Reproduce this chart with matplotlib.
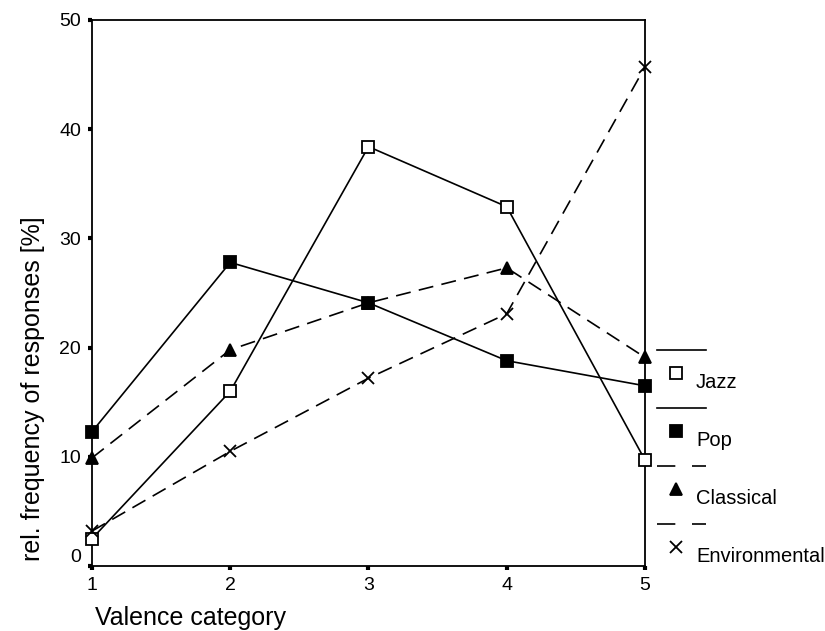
import matplotlib
matplotlib.use('Agg')
import matplotlib.pyplot as plt
from matplotlib.lines import Line2D
import matplotlib.transforms as mtransforms

matplotlib.rcParams['font.family'] = ['Liberation Sans', 'DejaVu Sans']

# values
valence = [1, 2, 3, 4, 5]
jazz = [2.5, 16.0, 38.4, 32.9, 9.7]
pop = [12.3, 27.8, 24.1, 18.8, 16.5]
classical = [9.9, 19.8, 24.1, 27.3, 19.1]
environmental = [3.2, 10.5, 17.2, 23.1, 45.7]

series = [
    ('Jazz', jazz, 's', 'white', '-'),
    ('Pop', pop, 's', 'black', '-'),
    ('Classical', classical, '^', 'black', '--'),
    ('Environmental', environmental, 'x', 'black', '--'),
]

W, H = 825, 631
fig = plt.figure(figsize=(W / 100, H / 100), dpi=100)
ax = fig.add_axes([92 / W, 1 - 566 / H, (645 - 92) / W, (566 - 20) / H])

for name, vals, mk, fc, ls in series:
    line, = ax.plot(valence, vals, color='black', linestyle=ls, linewidth=1.2,
                    marker=mk, markersize=8 if mk != 'x' else 9,
                    markerfacecolor=fc, markeredgecolor='black',
                    markeredgewidth=1.3, clip_on=False, zorder=3)
    if ls == '--':
        line.set_dashes((9, 5))

ax.set_xlim(1, 5)
ax.set_ylim(0, 50)
ax.set_xticks(valence)
ax.set_yticks(range(0, 51, 10))
ax.tick_params(direction='out', length=3, width=3, labelsize=14, pad=5)
for sp in ax.spines.values():
    sp.set_linewidth(1.3)

# the "0" label sits a bit higher in the original
lbl0 = ax.get_yticklabels()[0]
lbl0.set_transform(lbl0.get_transform() +
                   mtransforms.ScaledTranslation(0, 11 / 100, fig.dpi_scale_trans))

fig.text(95 / W, 1 - 625 / H, 'Valence category', fontsize=18,
         ha='left', va='baseline')
fig.text(33 / W, 1 - 389 / H, 'rel. frequency of responses [%]', fontsize=18,
         rotation=90, ha='center', va='center')

# legend drawn by hand: line sample above, marker and label below
for i, (name, vals, mk, fc, ls) in enumerate(series):
    y0 = 350 + i * 58
    ln = Line2D([657 / W, 706 / W], [1 - y0 / H, 1 - y0 / H], color='black',
                linewidth=1.2, linestyle=ls, transform=fig.transFigure)
    if ls == '--':
        ln.set_dashes((11, 10))
    fig.add_artist(ln)
    mky = y0 + 23
    fig.add_artist(Line2D([676 / W], [1 - mky / H], marker=mk, linestyle='none',
                          markersize=8 if mk != 'x' else 9, markerfacecolor=fc,
                          markeredgecolor='black', markeredgewidth=1.3,
                          transform=fig.transFigure))
    fig.text(696 / W, 1 - (y0 + 33) / H, name, fontsize=14.5, ha='left', va='center')

fig.savefig('out.png', dpi=100)
